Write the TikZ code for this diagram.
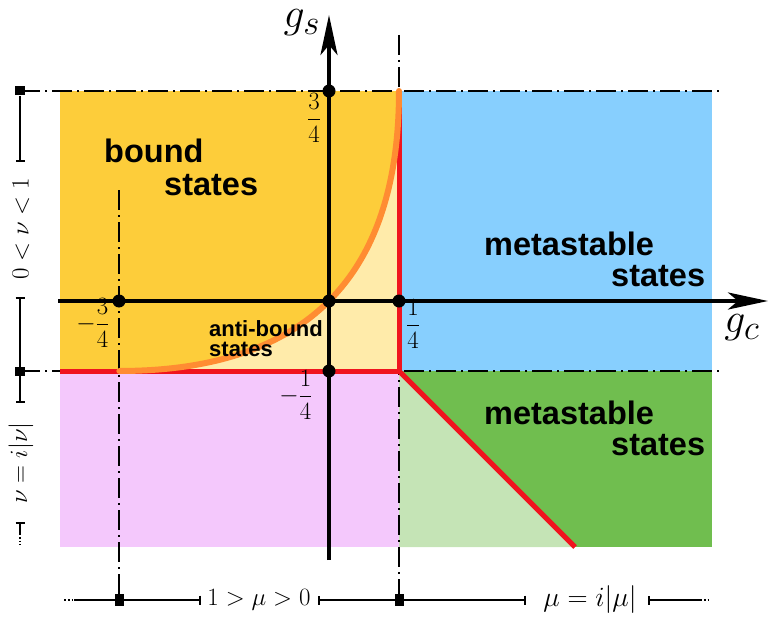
\documentclass[tikz,border=0pt]{standalone}
\usepackage{fontspec}
\newfontfamily\labfont{Liberation Sans}
\usetikzlibrary{arrows.meta}
\definecolor{cOrange}{HTML}{FDCD3A}
\definecolor{cLYellow}{HTML}{FFEBAA}
\definecolor{cBlue}{HTML}{87CFFE}
\definecolor{cPink}{HTML}{F4C8FC}
\definecolor{cGreen}{HTML}{70BE4F}
\definecolor{cLGreen}{HTML}{C5E4B6}
\definecolor{cRed}{HTML}{F0141E}
\definecolor{cCurve}{HTML}{FF8C32}
\tikzset{
  dd/.style={line width=1.4pt, dash pattern=on 20pt off 5pt on 2pt off 5pt},
  axisline/.style={line width=4pt, -{Stealth[length=40pt,width=17pt,inset=10pt]}},
  redline/.style={cRed, line width=5pt},
  dot/.style={circle, fill=black, inner sep=0pt, minimum size=13pt},
  sq/.style={rectangle, fill=black, inner sep=0pt, minimum width=10pt, minimum height=9pt},
  sqv/.style={rectangle, fill=black, inner sep=0pt, minimum width=9pt, minimum height=12pt},
  dimline/.style={line width=1.8pt},
  regtext/.style={font=\labfont\bfseries\fontsize{32.5}{36}\selectfont, inner sep=0pt, anchor=base west},
  smalltext/.style={font=\labfont\bfseries\fontsize{22}{24}\selectfont, inner sep=0pt, anchor=base west},
  numlab/.style={font=\fontsize{24.88}{28}\selectfont, inner sep=0pt},
  dimlab/.style={font=\fontsize{24.88}{28}\selectfont, inner sep=0pt},
  axlab/.style={font=\fontsize{24.88}{28}\selectfont, inner sep=0pt, scale=1.68},
}
\begin{document}
\begin{tikzpicture}[x=1pt,y=-1pt]
\useasboundingbox (0,0) rectangle (780,618);
% regions
\fill[cOrange] (60,91) rectangle (399,371);
\fill[cBlue] (399,91) rectangle (712,371);
\fill[cPink] (60,371) rectangle (399,547);
\fill[cGreen] (399,371) rectangle (712,547);
\fill[cLGreen] (399,371) -- (575,547) -- (399,547) -- cycle;
\fill[cLYellow] plot[domain=0:1,samples=80,variable=\t] ({329+280*(0.25-\t*\t)},{301-280*((1-\t)^2-0.25)}) -- (399,371) -- cycle;
% dash-dot guide lines
\draw[dd] (20,91) -- (722,91);
\draw[dd] (20,371) -- (722,371);
\draw[dd] (119,190) -- (119,600);
\draw[dd] (399,35) -- (399,600);
% axes
\draw[axisline] (58,301) -- (768,301);
\draw[axisline] (329,560) -- (329,15);
% red boundaries
\draw[redline, line join=miter] (60,371) -- (399,371) -- (399,91);
\draw[redline] (399,371) -- (575,547);
% curve
\draw[cCurve, line width=6pt, line cap=round] plot[domain=0:1,samples=80,variable=\t] ({329+280*(0.25-\t*\t)},{301-280*((1-\t)^2-0.25)});
% dots
\node[dot] (pA) at (119,301) {};
\node[dot] (pO) at (329,301) {};
\node[dot] (pB) at (399,301) {};
\node[dot] (pT) at (329,91) {};
\node[dot] (pD) at (329,371) {};
% axis labels
\node[axlab] (gs) at (302,23) {$g_s$};
\node[axlab] (gc) at (742,328) {$g_c$};
% number labels
\node[numlab] (l34) at (314,118) {$\displaystyle\frac{3}{4}$};
\node[numlab] (lm34) at (93,323) {$\displaystyle-\frac{3}{4}$};
\node[numlab] (l14) at (413,324) {$\displaystyle\frac{1}{4}$};
\node[numlab] (lm14) at (296,395) {$\displaystyle-\frac{1}{4}$};
% region texts
\node[regtext] (b1) at (104,162) {bound};
\node[regtext] (b2) at (164,195) {states};
\node[regtext] (m1) at (484,255) {metastable};
\node[regtext] (m2) at (611,286) {states};
\node[regtext] (m3) at (484,424) {metastable};
\node[regtext] (m4) at (611,455) {states};
\node[smalltext] (a1) at (209,336) {anti-bound};
\node[smalltext] (a2) at (209,356) {states};
% left dimension line
\node[sq] (s1) at (20,91) {};
\node[sq] (s2) at (20,371) {};
\node[dimlab, rotate=90] (nu1) at (21,229) {$0<\nu<1$};
\node[dimlab, rotate=90] (nu2) at (21,463) {$\nu=i|\nu|$};
\draw[dimline, -{Bar[width=9pt]}] (s1) -- (20,162);
\draw[dimline, {Bar[width=9pt]}-{Bar[width=9pt]}] (20,297) -- (20,403);
\draw[dimline, {Bar[width=9pt]}-] (20,522) -- (20,533);
\draw[dimline, dotted] (20,533) -- (20,545);
% bottom dimension line
\node[sqv] (s3) at (119,600) {};
\node[sqv] (s4) at (399,600) {};
\node[dimlab] (mu1) at (259,600) {$1>\mu>0$};
\node[dimlab, scale=1.12] (mu2) at (590,600) {$\mu=i|\mu|$};
\draw[dimline, dotted] (64,600) -- (74,600);
\draw[dimline, -{Bar[width=9pt]}] (74,600) -- (201,600);
\draw[dimline, {Bar[width=9pt]}-{Bar[width=9pt]}] (318,600) -- (526,600);
\draw[dimline, {Bar[width=9pt]}-] (648,600) -- (700,600);
\draw[dimline, dotted] (700,600) -- (710,600);
\end{tikzpicture}
\end{document}
